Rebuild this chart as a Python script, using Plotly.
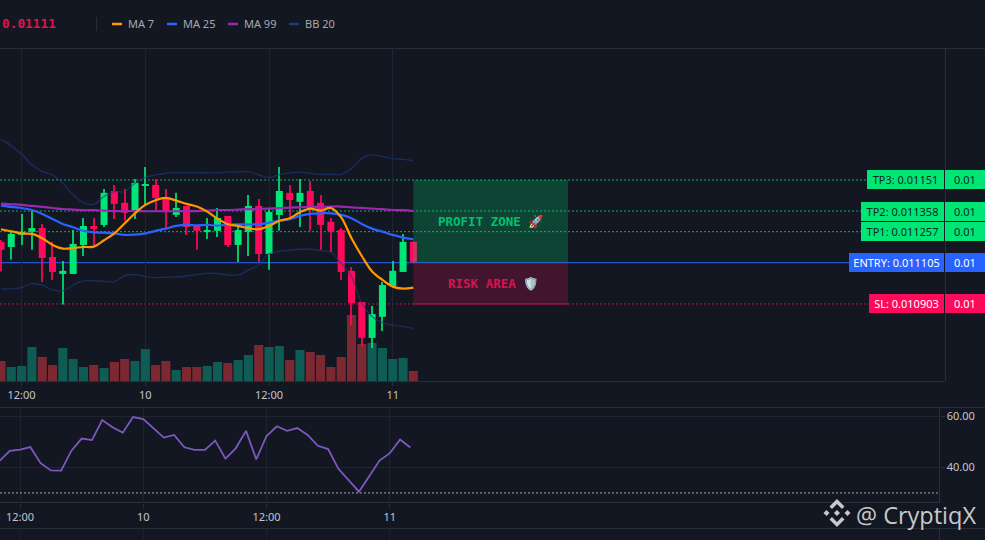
import plotly.graph_objects as go

W, H = 985, 540
BG = "#131722"
GRID = "#1f2430"
BORDER = "#2a2e39"
UP = "#00e676"
DOWN = "#ff0a5a"
TEXT = "#c3c6cd"

# ---- data (prices in millionths) ----
hours = list(range(-14, 27))
open_e6 = [11207,11182,11241,11256,11275,11133,11050,11050,11192,11285,11290,11456,11398,11363,11481,11486,11417,11339,11383,11285,11257,11261,11334,11192,11256,11383,11148,11339,11447,11403,11456,11398,11305,11265,11065,10913,10737,10840,10991,11060,11207]
close_e6 = [11168,11246,11256,11275,11128,11060,11065,11197,11285,11270,11447,11393,11349,11496,11486,11422,11358,11373,11280,11261,11265,11324,11192,11265,11383,11148,11354,11456,11412,11447,11383,11290,11261,11060,10907,10737,10854,10996,11065,11207,11109]
high_e6 = [11216,11257,11344,11368,11295,11207,11114,11265,11324,11324,11466,11486,11466,11515,11574,11515,11466,11447,11383,11290,11324,11373,11334,11290,11437,11417,11368,11574,11486,11515,11505,11437,11324,11275,11084,10913,10893,11011,11114,11246,11210]
low_e6 = [11062,11119,11192,11168,11011,11021,10900,11050,11138,11192,11280,11319,11310,11319,11388,11358,11275,11329,11241,11168,11221,11231,11182,11109,11138,11109,11070,11261,11314,11280,11261,11168,11158,11021,10800,10698,10688,10771,10991,11060,11102]
volume = [200,140,150,340,240,160,330,220,140,160,130,190,220,200,320,160,200,110,140,140,150,190,180,210,260,360,340,350,210,310,290,260,140,240,660,370,380,330,220,230,100]
ma7_e6 = [11269,11259,11248,11246,11225,11192,11174,11177,11182,11184,11215,11249,11298,11347,11388,11411,11422,11409,11393,11380,11355,11321,11293,11285,11274,11269,11285,11310,11323,11352,11370,11360,11373,11327,11225,11138,11062,11021,10988,10978,10983]
ma25_e6 = [11386,11378,11373,11363,11344,11319,11295,11279,11261,11254,11252,11249,11241,11243,11249,11261,11272,11285,11290,11288,11290,11287,11292,11293,11293,11293,11301,11311,11318,11334,11344,11347,11347,11339,11323,11295,11272,11257,11241,11228,11220]
ma99_e6 = [11394,11391,11388,11383,11378,11373,11368,11365,11362,11362,11360,11358,11358,11358,11357,11357,11357,11357,11358,11358,11360,11363,11363,11365,11367,11368,11370,11372,11375,11376,11378,11378,11380,11380,11376,11373,11370,11367,11363,11362,11358]
bb_up_e6 = [11709,11678,11637,11584,11551,11535,11494,11437,11399,11391,11429,11453,11453,11494,11523,11535,11543,11546,11546,11546,11545,11546,11548,11549,11551,11535,11522,11536,11545,11548,11543,11538,11538,11538,11567,11616,11633,11624,11615,11611,11605]
bb_lo_e6 = [10977,10977,10983,11003,10995,10972,10967,10996,11016,11017,11014,11013,11042,11047,11037,11032,11034,11035,11040,11047,11053,11052,11045,11045,11070,11094,11148,11161,11166,11171,11171,11164,11156,11102,11037,10907,10841,10812,10799,10792,10784]
rsi = [42.5,46.4,46.9,47.9,41.6,38.8,38.7,46.5,51.2,50.6,58.4,55.6,53.5,59.6,58.8,55.2,51.6,52.6,47.8,46.8,46.8,50.4,43.4,47.4,54.2,43.1,52.2,56.0,54.2,55.3,52.6,48.4,47.1,39.4,35.1,30.5,36.5,42.6,45.5,50.8,47.7]

tick_hours = [-12, 0, 12, 24]
tick_labels = ["12:00", "10", "12:00", "11"]
rsi_ticks = [40, 60]
rsi_level = 30
level_names = ["TP3", "TP2", "TP1", "ENTRY", "SL"]
level_values = [0.01151, 0.011358, 0.011257, 0.011105, 0.010903]
level_other = ["0.01"] * 5
level_colors = [UP, UP, UP, "#2962ff", "#ff0a5a"]
level_text = ["#0b2a22", "#0b2a22", "#0b2a22", "#ffffff", "#ffffff"]
level_box_w = [77, 83, 83, 95, 75]
box_start, box_end = 26, 41
ma_names = ["MA 7", "MA 25", "MA 99", "BB 20"]
ma_colors = ["#ff9800", "#2962ff", "#9c27b0", "#1c3a80"]
last_price = "0.01111"


def e6(vals):
    return [v / 1e6 for v in vals]


def px(x):
    return x / W


def py(y):
    return 1 - y / H


candle_colors = [UP if c >= o else DOWN for o, c in zip(open_e6, close_e6)]
body_base = e6([min(o, c) for o, c in zip(open_e6, close_e6)])
body_size = e6([max(abs(c - o), 3) for o, c in zip(open_e6, close_e6)])
wick_size = e6([h - l for h, l in zip(high_e6, low_e6)])

fig = go.Figure()

fig.add_trace(go.Bar(
    x=hours, y=volume, xaxis="x", yaxis="y", width=0.88,
    marker=dict(color=["#0f5c54" if c >= o else "#7c2833" for o, c in zip(open_e6, close_e6)], line_width=0),
))
fig.add_trace(go.Bar(x=hours, y=wick_size, base=e6(low_e6), xaxis="x", yaxis="y2", width=0.11,
                     marker=dict(color=candle_colors, line_width=0), opacity=0.85))
fig.add_trace(go.Bar(x=hours, y=body_size, base=body_base, xaxis="x", yaxis="y2", width=0.68,
                     marker=dict(color=candle_colors, line_width=0)))
fig.add_trace(go.Scatter(x=hours, y=e6(bb_up_e6), xaxis="x", yaxis="y2", mode="lines",
                         line=dict(color=ma_colors[3], width=1.3, shape="spline"), opacity=0.65))
fig.add_trace(go.Scatter(x=hours, y=e6(bb_lo_e6), xaxis="x", yaxis="y2", mode="lines",
                         line=dict(color=ma_colors[3], width=1.3, shape="spline"), opacity=0.65))
fig.add_trace(go.Scatter(x=hours, y=e6(ma99_e6), xaxis="x", yaxis="y2", mode="lines",
                         line=dict(color=ma_colors[2], width=2.2, shape="spline")))
fig.add_trace(go.Scatter(x=hours, y=e6(ma25_e6), xaxis="x", yaxis="y2", mode="lines",
                         line=dict(color=ma_colors[1], width=2.2, shape="spline")))
fig.add_trace(go.Scatter(x=hours, y=e6(ma7_e6), xaxis="x", yaxis="y2", mode="lines",
                         line=dict(color=ma_colors[0], width=2.2, shape="spline")))
fig.add_trace(go.Scatter(x=hours, y=rsi, xaxis="x2", yaxis="y3", mode="lines",
                         line=dict(color="#7e57c2", width=1.8)))

shapes = []
annotations = []


def hline(y0, x0, x1, color, width=1, dash="solid", layer="below"):
    shapes.append(dict(type="line", xref="paper", yref="paper", x0=px(x0), x1=px(x1), y0=py(y0), y1=py(y0),
                       line=dict(color=color, width=width, dash=dash), layer=layer))


def vline(x, y0, y1, color, width=1, layer="above"):
    shapes.append(dict(type="line", xref="paper", yref="paper", x0=px(x), x1=px(x), y0=py(y0), y1=py(y1),
                       line=dict(color=color, width=width), layer=layer))


# panel frame
hline(48.5, 0, W, BORDER)
hline(381.5, 0, 945, BORDER)
hline(407.5, 0, W, BORDER)
hline(502.5, 0, 939.5, BORDER)
hline(528.5, 0, W, BORDER)
vline(945.5, 48, 381, BORDER)
vline(939.5, 407, 502.5, BORDER)
vline(939.5, 528.5, 540, BORDER)
vline(96.5, 17, 31, BORDER)
for h in tick_hours:
    shapes.append(dict(type="line", xref="x2", yref="paper", x0=h, x1=h, y0=py(528.5), y1=0,
                       line=dict(color=GRID, width=1)))

# trade levels
for name, val, other, col, tcol, bw in zip(level_names, level_values, level_other, level_colors, level_text, level_box_w):
    solid = name == "ENTRY"
    shapes.append(dict(type="line", xref="paper", yref="y2", x0=0, x1=px(945 - bw), y0=val, y1=val,
                       line=dict(color=col, width=1, dash="solid" if solid else "2px,2px"),
                       layer="below", opacity=1 if solid else 0.75))
    annotations.append(dict(xref="paper", yref="y2", x=px(944), y=val, xanchor="right", yanchor="middle",
                            text=f"{name}: {val}", showarrow=False, width=bw - 2, height=17, align="center",
                            bgcolor=col, borderpad=1, borderwidth=0,
                            font=dict(family="Noto Sans", size=11, color=tcol)))
    annotations.append(dict(xref="paper", yref="y2", x=px(985), y=val, xanchor="right", yanchor="middle",
                            text=other, showarrow=False, width=38, height=17, align="center",
                            bgcolor=col, borderpad=1, borderwidth=0,
                            font=dict(family="Noto Sans", size=11, color=tcol)))

# profit / risk boxes
entry = level_values[3]
shapes.append(dict(type="rect", xref="x", yref="y2", x0=box_start, x1=box_end, y0=entry, y1=level_values[0],
                   fillcolor="rgba(0,230,118,0.22)", line=dict(width=0), layer="above"))
shapes.append(dict(type="rect", xref="x", yref="y2", x0=box_start, x1=box_end, y0=level_values[4], y1=entry,
                   fillcolor="rgba(255,10,90,0.20)", line=dict(width=0), layer="above"))
shapes.append(dict(type="line", xref="x", yref="y2", x0=box_start, x1=box_end, y0=level_values[4], y1=level_values[4],
                   line=dict(color="#b5164f", width=1.2), layer="above"))
annotations.append(dict(xref="paper", yref="paper", x=px(436), y=py(221.5), xanchor="left", yanchor="middle",
                        text="<b>PROFIT ZONE</b> 🚀", showarrow=False,
                        font=dict(family="DejaVu Sans Mono", size=12.5, color="#00c070")))
annotations.append(dict(xref="paper", yref="paper", x=px(446), y=py(283.5), xanchor="left", yanchor="middle",
                        text="<b>RISK AREA</b> 🛡️", showarrow=False,
                        font=dict(family="DejaVu Sans Mono", size=12.5, color="#d81350")))

# header legend
annotations.append(dict(xref="paper", yref="paper", x=px(0), y=py(24), xanchor="left", yanchor="middle",
                        text=f"<b>{last_price}</b>", showarrow=False,
                        font=dict(family="DejaVu Sans Mono", size=12.8, color="#e0134f")))
for name, col, x0 in zip(ma_names, ma_colors, [112, 167, 228, 289]):
    hline(24, x0, x0 + 10, col, width=2.5, layer="above")
    annotations.append(dict(xref="paper", yref="paper", x=px(x0 + 14), y=py(24), xanchor="left", yanchor="middle",
                            text=name, showarrow=False, font=dict(family="Noto Sans", size=11, color="#a6a9b2")))

# watermark
annotations.append(dict(xref="paper", yref="paper", x=px(978), y=py(515), xanchor="right", yanchor="middle",
                        text="@ CryptiqX", showarrow=False, font=dict(family="Open Sans", size=23.5, color="#c8c9cc")))


def logo_path(cx, cy):
    def P(pts):
        return "M " + " L ".join(f"{px(cx + a):.5f},{py(cy + b):.5f}" for a, b in pts) + " Z "
    d = P([(0, -3), (3, 0), (0, 3), (-3, 0)])
    d += P([(-10.5, -3), (-7.5, 0), (-10.5, 3), (-13.5, 0)])
    d += P([(10.5, -3), (13.5, 0), (10.5, 3), (7.5, 0)])
    d += P([(0, -14), (7.5, -6.5), (5, -4), (0, -9), (-5, -4), (-7.5, -6.5)])
    d += P([(0, 14), (-7.5, 6.5), (-5, 4), (0, 9), (5, 4), (7.5, 6.5)])
    return d


shapes.append(dict(type="path", xref="paper", yref="paper", path=logo_path(837, 513),
                   fillcolor="#c8c9cc", line=dict(width=0), layer="above"))

fig.update_layout(
    width=W, height=H, margin=dict(l=0, r=0, t=0, b=0, pad=0),
    paper_bgcolor=BG, plot_bgcolor=BG, showlegend=False, hovermode=False, barmode="overlay",
    shapes=shapes, annotations=annotations,
    xaxis=dict(domain=[0, px(945)], range=[(0 - 145.3) / 10.31, (945 - 145.3) / 10.31], anchor="y",
               tickmode="array", tickvals=tick_hours, ticktext=tick_labels, showgrid=True, gridcolor=GRID, gridwidth=1,
               zeroline=False, showline=False, ticks="outside", ticklen=4, tickcolor=BORDER,
               tickfont=dict(family="Noto Sans", size=11, color=TEXT)),
    yaxis=dict(domain=[py(381), py(48)], range=[0, 3330], visible=False, fixedrange=True),
    yaxis2=dict(domain=[py(381), py(48)], overlaying="y", range=[(12391 - 4.895 * 381) / 1e6, (12391 - 4.895 * 48) / 1e6],
                visible=False, side="right", anchor="x"),
    xaxis2=dict(domain=[0, px(939.5)], range=[(0 - 143.3) / 10.27, (939.5 - 143.3) / 10.27], anchor="y3",
                tickmode="array", tickvals=tick_hours, ticktext=tick_labels, showgrid=True, gridcolor=GRID, gridwidth=1,
                zeroline=False, showline=False, ticks="outside", ticklen=4, tickcolor=BORDER,
                tickfont=dict(family="Noto Sans", size=11, color=TEXT)),
    yaxis3=dict(domain=[py(502.5), py(407.3)], range=[40 - 35.2 / 2.565, 60 + 8.7 / 2.565], anchor="x2", side="right",
                tickmode="array", tickvals=rsi_ticks, ticktext=[f"{v:.2f}" for v in rsi_ticks],
                showgrid=True, gridcolor=GRID, zeroline=False, showline=False, ticks="outside", ticklen=4,
                tickcolor=BORDER, tickfont=dict(family="Noto Sans", size=11, color=TEXT)),
)
fig.add_shape(type="line", xref="x2", yref="y3", x0=-13.95, x1=(939.5 - 143.3) / 10.27, y0=rsi_level, y1=rsi_level,
              line=dict(color="#c9ccd3", width=0.8, dash="2px,2px"), layer="above")
# right-hand tick marks on the price scale
for val in level_values:
    fig.add_shape(type="line", xref="paper", yref="y2", x0=px(945.5), x1=px(950), y0=val, y1=val,
                  line=dict(color="#0b2a22", width=1), layer="above")

fig.write_html("out.html", config={"displayModeBar": False},
               post_script="document.body.style.margin='0';document.body.style.background='%s';" % BG)
